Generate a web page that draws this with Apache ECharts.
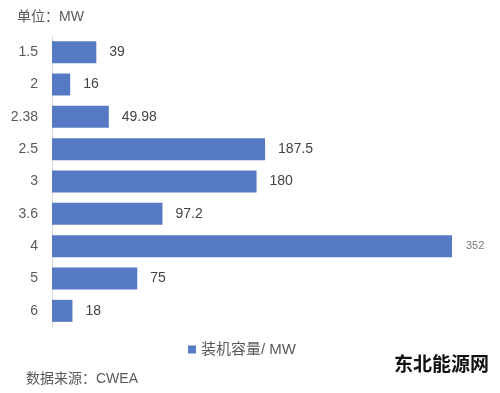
<!DOCTYPE html>
<html><head><meta charset="utf-8">
<script src="https://cdn.jsdelivr.net/npm/echarts@6/dist/echarts.min.js"></script>
<style>html,body{margin:0;padding:0;background:#fff}#c{width:500px;height:393px}</style>
</head><body><div id="c"></div>
<script>
const categories = ['1.5','2','2.38','2.5','3','3.6','4','5','6'];
const values = [39,16,49.98,187.5,180,97.2,352,75,18];
const seriesName = '装机容量/ MW';
const unitText = '单位：MW';
const sourceText = '数据来源：CWEA';
const watermark = '东北能源网';

const font = '"Liberation Sans", "Noto Sans CJK SC", sans-serif';
const chart = echarts.init(document.getElementById('c'), null, {renderer:'canvas'});
chart.setOption({
  animation:false,
  backgroundColor:'#fff',
  textStyle:{fontFamily:font},
  title:[
    {text:unitText,left:12,top:5,textStyle:{fontSize:14,fontWeight:'normal',color:'#595959',fontFamily:font}},
    {text:sourceText,left:21,top:367,textStyle:{fontSize:14,fontWeight:'normal',color:'#595959',fontFamily:font}},
    {text:watermark,left:389,top:349,textStyle:{fontSize:19,fontWeight:'bold',color:'#111',fontFamily:'"Noto Sans CJK SC", sans-serif',letterSpacing:1}}
  ],
  legend:{data:[seriesName],left:183,top:337,icon:'rect',itemWidth:8,itemHeight:8,itemGap:4,
    textStyle:{fontSize:15,color:'#595959',fontFamily:font}},
  grid:{left:52,right:48,top:36,bottom:66,containLabel:false},
  xAxis:{type:'value',min:0,max:352,show:false},
  yAxis:{type:'category',data:categories,inverse:true,
    axisLine:{show:true,lineStyle:{color:'#d9d9d9',width:1}},
    axisTick:{show:false},
    axisLabel:{margin:14,fontSize:14,color:'#595959',fontFamily:font},
    splitLine:{show:false}},
  series:[{
    name:seriesName,type:'bar',barCategoryGap:'32%',
    itemStyle:{color:'#5579c2'},
    data:values.map((v,i)=> v===352 ? {value:v,label:{fontSize:11,color:'#777',distance:14}} : v),
    label:{show:true,position:'right',distance:13,fontSize:14,color:'#444',fontFamily:font}
  }]
});
</script></body></html>
